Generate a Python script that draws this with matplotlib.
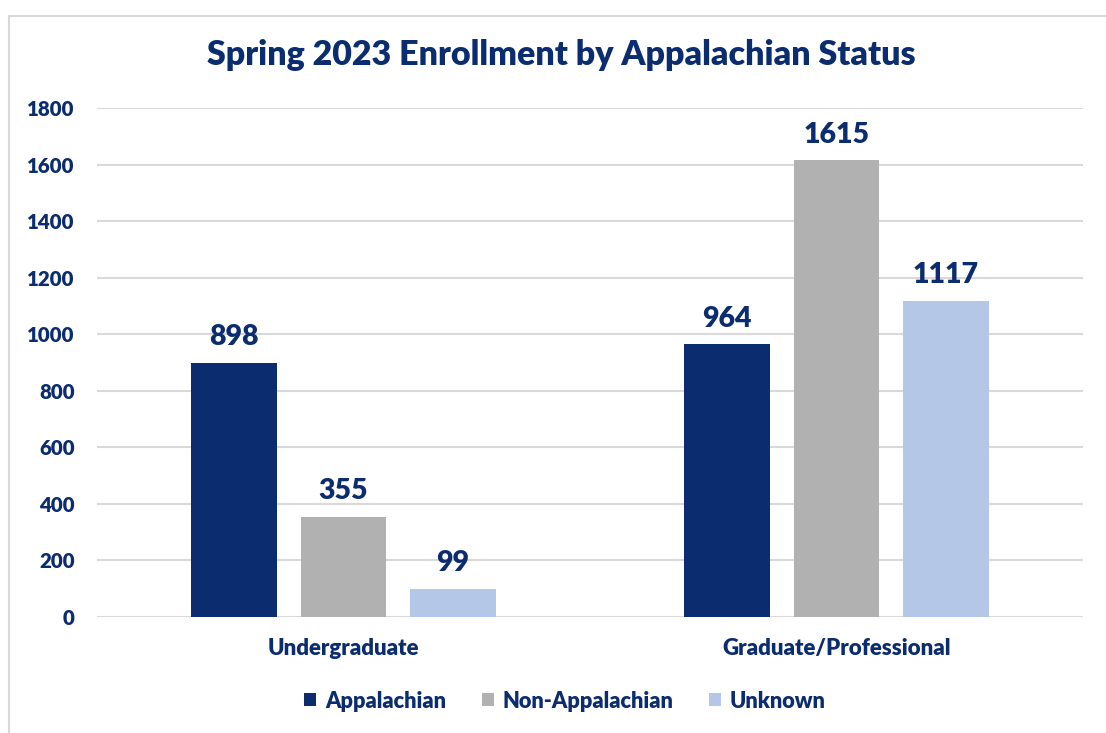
import numpy as np
import matplotlib
matplotlib.use("Agg")
import matplotlib.pyplot as plt
from matplotlib.patches import Rectangle

categories = ["Undergraduate", "Graduate/Professional"]
series = ["Appalachian", "Non-Appalachian", "Unknown"]
values = {
    "Appalachian": [898, 964],
    "Non-Appalachian": [355, 1615],
    "Unknown": [99, 1117],
}
colors = ["#0B2D6F", "#B0B1B0", "#B4C7E7"]
navy = "#0B2D6F"
W = "heavy"

plt.rcParams["font.family"] = ["Lato", "DejaVu Sans"]

fig = plt.figure(figsize=(11.06, 7.33), dpi=100)
# chart frame
fig.patches.append(Rectangle((9 / 1106, -0.01), 1.1, 0.99 - 9 / 733 + 0.01,
                             transform=fig.transFigure, fill=False,
                             edgecolor="#D9D9D9", linewidth=1.5))

ax = fig.add_axes([97 / 1106, 116 / 733, 986 / 1106, 509 / 733])
x = np.arange(len(categories))
width = 0.174
step = 0.222
for i, (name, c) in enumerate(zip(series, colors)):
    pos = x + (i - 1) * step
    bars = ax.bar(pos, values[name], width, color=c, label=name, zorder=3)
    for b, v in zip(bars, values[name]):
        ax.text(b.get_x() + b.get_width() / 2, v + 45, str(v), ha="center",
                va="bottom", fontsize=20.5, fontweight=W, color=navy)

ax.set_xlim(-0.5, 1.5)
ax.set_ylim(0, 1800)
ax.set_yticks(range(0, 1801, 200))
ax.set_xticks(x)
ax.set_xticklabels(categories)
ax.grid(axis="y", color="#D9D9D9", linewidth=1.5, zorder=0)
for s in ax.spines.values():
    s.set_visible(False)
ax.tick_params(axis="both", length=0, labelcolor=navy)
ax.tick_params(axis="y", pad=16, labelsize=14.8)
ax.tick_params(axis="x", pad=15, labelsize=16)
for lbl in ax.get_xticklabels() + ax.get_yticklabels():
    lbl.set_fontweight(W)

fig.text(561 / 1106, 1 - 55 / 733, "Spring 2023 Enrollment by Appalachian Status",
         ha="center", va="center", fontsize=24.5, fontweight=W, color=navy)

leg = fig.legend(loc="center", bbox_to_anchor=(565 / 1106, 1 - 701 / 733), ncol=3,
                 frameon=False, prop={"size": 15.7, "weight": W},
                 handlelength=0.55, handleheight=0.55,
                 columnspacing=1.65, handletextpad=0.4)
for t in leg.get_texts():
    t.set_color(navy)

fig.savefig("out.png", dpi=100)
